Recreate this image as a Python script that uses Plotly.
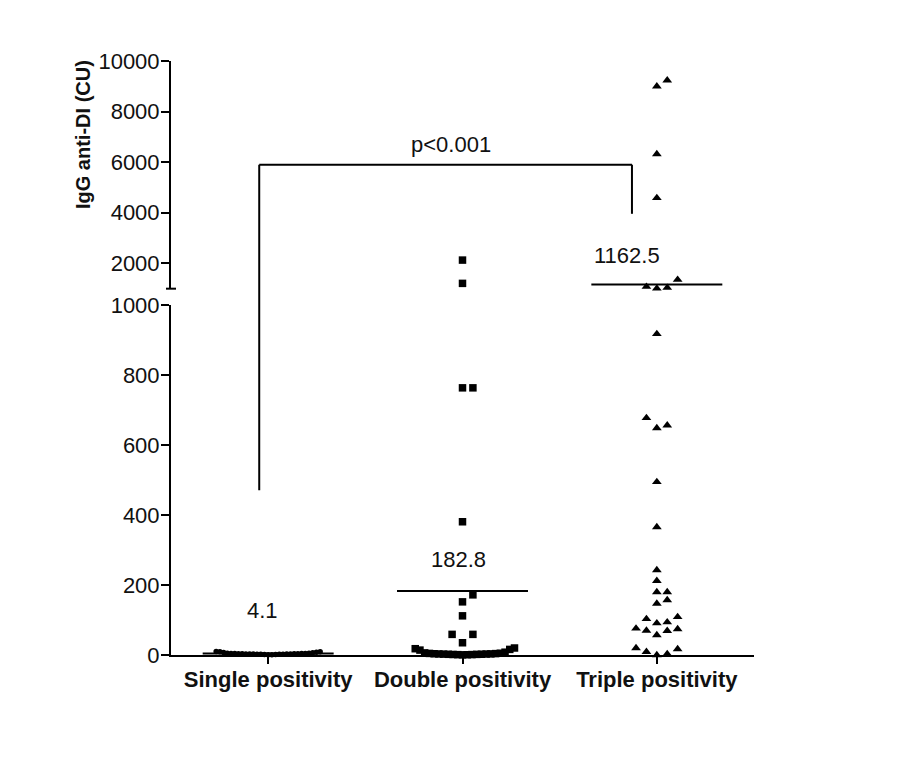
import numpy as np
import plotly.graph_objects as go

# ---------------- data ----------------
categories = ["Single positivity", "Double positivity", "Triple positivity"]
single_values = [0.8, 1, 1.3, 1.5, 1.8, 2, 2.2, 2.4, 2.6, 2.8, 3, 3.1, 3.2, 3.4, 3.5,
                 3.6, 3.8, 4, 4.2, 4.4, 4.6, 4.8, 5.2, 6.5, 7, 8, 9, 9.5, 10]
double_values = [0.5, 0.8, 1, 1.2, 1.5, 1.8, 2, 2.2, 2.5, 2.8, 3, 3.2, 3.5, 4, 4.5, 5,
                 6, 8, 14, 16, 18, 20, 35, 59, 59, 112, 152, 172, 381, 764, 764,
                 1210, 2130]
triple_values = [0, 3, 9, 17, 20, 57, 69, 70, 74, 76, 91, 94, 103, 109, 147, 157,
                 180, 180, 212, 243, 366, 495, 649, 657, 678, 918, 1010, 1040,
                 1079, 1355, 4587, 6321, 9002, 9238]
group_means = [4.1, 182.8, 1162.5]
mean_labels = ["4.1", "182.8", "1162.5"]
p_label = "p<0.001"
bracket_left_bottom = 471
bracket_top = 5900
bracket_right_bottom = 3960
lower_ticks = [0, 200, 400, 600, 800, 1000]
upper_ticks = [2000, 4000, 6000, 8000, 10000]
y_title = "IgG anti-DI (CU)"

# ---------------- layout geometry ----------------
W, H = 907, 758
BODY = 8  # default page margin of the html body
M = dict(l=171 - BODY, r=153 + BODY, t=61 - BODY, b=103 + BODY)
plot_w = W - M["l"] - M["r"]
plot_h = H - M["t"] - M["b"]
BREAK = 1000
lower_dom = [0.0, 0.5887]
upper_dom = [0.6167, 1.0]
lower_rng = [0, 1000]
upper_rng = [1000, 10000]
x_rng = [-0.5, 2.5]
px_per_x = plot_w / (x_rng[1] - x_rng[0])

FONT = "Liberation Sans, Arial, sans-serif"
INK = "#111111"


def to_paper(v):
    if v < BREAK:
        dom, rng = lower_dom, lower_rng
    else:
        dom, rng = upper_dom, upper_rng
    return dom[0] + (v - rng[0]) / (rng[1] - rng[0]) * (dom[1] - dom[0])


def to_px(v):
    return to_paper(v) * plot_h


def swarm_offsets(values, row_px=10.5, step_px=10.4, max_half_px=52):
    values = np.asarray(values, float)
    order = np.argsort(values, kind="stable")
    offs = np.zeros(len(values))
    rows, cur, start = [], [], None
    for i in order:
        p = to_px(values[i])
        if cur and p - start > row_px:
            rows.append(cur)
            cur = []
        if not cur:
            start = p
        cur.append(i)
    if cur:
        rows.append(cur)
    for row in rows:
        cols = [0 if k == 0 else ((k + 1) // 2 if k % 2 == 1 else -(k // 2))
                for k in range(len(row))]
        maxc = max(abs(c) for c in cols) or 1
        step = min(step_px, max_half_px / maxc)
        for i, c in zip(row, cols):
            offs[i] = c * step / px_per_x
    return offs


fig = go.Figure()
groups = [single_values, double_values, triple_values]
symbols = ["circle", "square", "triangle-up"]
sizes = [5.5, 7.5, 8.5]

for gi, vals in enumerate(groups):
    vals = np.asarray(vals, float)
    xs = gi + swarm_offsets(vals)
    lo = vals < BREAK
    mk = dict(symbol=symbols[gi], size=sizes[gi], color="black", line=dict(width=0))
    fig.add_trace(go.Scatter(x=xs[lo], y=vals[lo], mode="markers", xaxis="x", yaxis="y",
                             marker=mk, cliponaxis=False, showlegend=False, hoverinfo="skip"))
    if (~lo).any():
        fig.add_trace(go.Scatter(x=xs[~lo], y=vals[~lo], mode="markers", xaxis="x2", yaxis="y2",
                                 marker=mk, cliponaxis=False, showlegend=False, hoverinfo="skip"))

# mean lines
for gi, m in enumerate(group_means):
    ax = ("x", "y") if m < BREAK else ("x2", "y2")
    fig.add_trace(go.Scatter(x=[gi - 0.337, gi + 0.337], y=[m, m], mode="lines",
                             xaxis=ax[0], yaxis=ax[1], line=dict(color="black", width=2),
                             cliponaxis=False, showlegend=False, hoverinfo="skip"))

# mean labels
label_pos = [(-0.03, 126, "x", "y"), (-0.02, 274, "x", "y"), (-0.154, 2300, "x2", "y2")]
annotations = []
for gi, (dx, yv, xr, yr) in enumerate(label_pos):
    annotations.append(dict(x=gi + dx, y=yv, xref=xr, yref=yr, text=mean_labels[gi],
                            showarrow=False, font=dict(family=FONT, size=22, color=INK),
                            xanchor="center", yanchor="middle"))
annotations.append(dict(x=0.94, y=6700, xref="x2", yref="y2", text=p_label, showarrow=False,
                        font=dict(family=FONT, size=22, color=INK),
                        xanchor="center", yanchor="middle"))
annotations.append(dict(x=-0.151, y=0.877, xref="paper", yref="paper", text="<b>" + y_title + "</b>",
                        textangle=-90, showarrow=False, font=dict(family=FONT, size=20, color=INK),
                        xanchor="center", yanchor="middle"))

# bracket and axis break cap
xl, xr_ = -0.046, 1.872
line = dict(color="black", width=2)
shapes = [
    dict(type="line", xref="x", yref="paper", x0=xl, x1=xl,
         y0=to_paper(bracket_left_bottom), y1=to_paper(bracket_top), line=line),
    dict(type="line", xref="x", yref="paper", x0=xl, x1=xr_,
         y0=to_paper(bracket_top), y1=to_paper(bracket_top), line=line),
    dict(type="line", xref="x", yref="paper", x0=xr_, x1=xr_,
         y0=to_paper(bracket_right_bottom), y1=to_paper(bracket_top), line=line),
    dict(type="line", xref="paper", yref="paper", x0=-5 / plot_w, x1=5 / plot_w,
         y0=upper_dom[0], y1=upper_dom[0], line=line),
]

tickfont = dict(family=FONT, size=22, color=INK)
yaxis_common = dict(showgrid=False, zeroline=False, showline=True, linecolor="black",
                    linewidth=2, tickmode="array", ticks="outside", ticklen=8, tickwidth=2,
                    tickcolor="black", tickfont=tickfont, ticklabelstandoff=-3)
fig.update_layout(
    width=W, height=H, margin=M,
    paper_bgcolor="white", plot_bgcolor="white",
    shapes=shapes, annotations=annotations,
    xaxis=dict(domain=[0, 1], range=x_rng, anchor="y", showgrid=False, zeroline=False,
               showline=True, linecolor="black", linewidth=2,
               tickmode="array", tickvals=[0, 1, 2],
               ticktext=["<b>" + c + "</b>" for c in categories],
               ticks="outside", ticklen=7, tickwidth=2, tickcolor="black",
               tickfont=tickfont, ticklabelstandoff=-3),
    xaxis2=dict(domain=[0, 1], range=x_rng, anchor="y2", matches="x", visible=False),
    yaxis=dict(domain=lower_dom, range=lower_rng, anchor="x",
               tickvals=lower_ticks, ticktext=[str(t) for t in lower_ticks], **yaxis_common),
    yaxis2=dict(domain=upper_dom, range=upper_rng, anchor="x2",
                tickvals=upper_ticks, ticktext=[str(t) for t in upper_ticks], **yaxis_common),
)

fig.write_html("out.html")
